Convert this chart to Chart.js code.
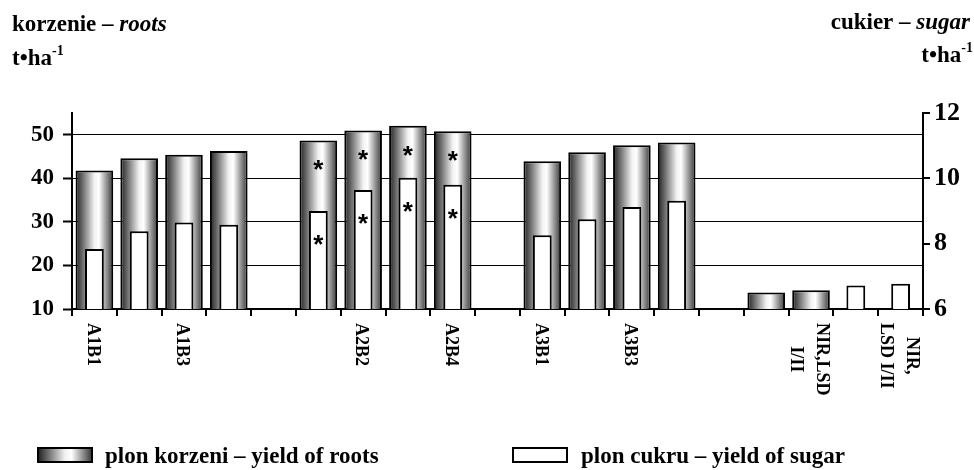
<!DOCTYPE html>
<html>
<head>
<meta charset="utf-8">
<script src="https://cdn.jsdelivr.net/npm/chart.js@4.4.1/dist/chart.umd.min.js"></script>
<style>
  html, body { margin: 0; padding: 0; background: #fff; }
  #wrap { width: 974px; height: 470px; position: relative; }
</style>
</head>
<body>
<div id="wrap"><canvas id="chart"></canvas></div>
<script>
// Categories: treatment combinations, gaps between groups, then LSD bars
const categories = [
  'A1B1', 'A1B2', 'A1B3', 'A1B4', '',
  'A2B1', 'A2B2', 'A2B3', 'A2B4', '',
  'A3B1', 'A3B2', 'A3B3', 'A3B4', '',
  ['NIR,LSD', 'I'], ['NIR,LSD', 'I/II'], ['NIR,', 'LSD I'], ['NIR,', 'LSD I/II']
];

// Root yield, t·ha-1 (left axis)
const rootsYield = [41.8, 44.6, 45.4, 46.3, null, 48.7, 51.0, 52.1, 50.8, null,
                    43.9, 46.0, 47.6, 48.2, null, 13.8, 14.3, null, null];

// Sugar yield, t·ha-1 (right axis)
const sugarYield = [7.84, 8.38, 8.65, 8.58, null, 9.00, 9.64, 10.02, 9.80, null,
                    8.26, 8.75, 9.12, 9.31, null, null, null, 6.72, 6.77];

// Significant differences (marked with an asterisk)
const rootsSignificant = [5, 6, 7, 8];
const sugarSignificant = [5, 6, 7, 8];

// Axis ranges and tick steps
const rootsAxis = { min: 10, max: 55, step: 10 };
const sugarAxis = { min: 6, max: 12, step: 2 };

const ROOT_BAR = 0.84;
const SUGAR_BAR = 0.42;
const SERIF = '"Liberation Serif", "Times New Roman", serif';

function barGradient(c, x0, x1) {
  const g = c.createLinearGradient(x0, 0, x1, 0);
  g.addColorStop(0, '#202020');
  g.addColorStop(0.2, '#727272');
  g.addColorStop(0.5, '#f2f2f2');
  g.addColorStop(0.62, '#ffffff');
  g.addColorStop(1, '#363636');
  return g;
}

function rootsFill(ctx) {
  const chart = ctx.chart;
  const xs = chart.scales && chart.scales.x;
  if (!xs || ctx.dataIndex === undefined) return '#999';
  const cx = xs.getPixelForValue(ctx.dataIndex);
  const w = xs.width / categories.length * ROOT_BAR;
  if (!Number.isFinite(cx) || !Number.isFinite(w) || w <= 0) return '#999';
  return barGradient(chart.ctx, cx - w / 2, cx + w / 2);
}

// Axis titles in the top corners, with mixed bold / italic and a superscript
function drawRich(c, parts, x, y, align) {
  const fontOf = p => `${p.italic ? 'italic ' : ''}bold ${p.size}px ${SERIF}`;
  let total = 0;
  parts.forEach(p => { c.font = fontOf(p); total += c.measureText(p.text).width; });
  let cx = align === 'right' ? x - total : x;
  c.textAlign = 'left';
  c.textBaseline = 'alphabetic';
  parts.forEach(p => {
    c.font = fontOf(p);
    c.fillText(p.text, cx, y + (p.dy || 0));
    cx += c.measureText(p.text).width;
  });
}

const decorations = {
  id: 'decorations',
  afterDraw(chart) {
    const c = chart.ctx;
    const xs = chart.scales.x;
    c.save();
    c.fillStyle = '#000';

    // corner titles
    drawRich(c, [{ text: 'korzenie – ', size: 23 }, { text: 'roots', size: 23, italic: true }], 12, 31, 'left');
    drawRich(c, [{ text: 't•ha', size: 23 }, { text: '-1', size: 14, dy: -10 }], 12, 65, 'left');
    drawRich(c, [{ text: 'cukier – ', size: 23 }, { text: 'sugar', size: 23, italic: true }], 970, 29, 'right');
    drawRich(c, [{ text: 't•ha', size: 23 }, { text: '-1', size: 14, dy: -10 }], 973, 62, 'right');

    // category labels, rotated to read downwards, every second one shown
    c.font = `bold 18px ${SERIF}`;
    categories.forEach((lab, i) => {
      if (i % 2 !== 0 || !lab) return;
      const lines = Array.isArray(lab) ? lab : [lab];
      const x = xs.getPixelForValue(i);
      const top = xs.top + 14;
      const lh = 26;
      const widths = lines.map(l => c.measureText(l).width);
      const maxW = Math.max(...widths);
      c.save();
      c.translate(x, top);
      c.rotate(Math.PI / 2);
      c.textAlign = 'center';
      c.textBaseline = 'middle';
      lines.forEach((l, k) => {
        const ly = (k - (lines.length - 1) / 2) * lh + 2;
        c.fillText(l, maxW / 2, ly);
      });
      c.restore();
    });

    // legend
    const sw = { w: 54, h: 14, y: 448 };
    c.fillStyle = barGradient(c, 38, 38 + sw.w);
    c.fillRect(38, sw.y, sw.w, sw.h);
    c.lineWidth = 2;
    c.strokeStyle = '#000';
    c.strokeRect(38, sw.y, sw.w, sw.h);
    c.fillStyle = '#fff';
    c.fillRect(513, sw.y, sw.w, sw.h);
    c.strokeRect(513, sw.y, sw.w, sw.h);
    c.fillStyle = '#000';
    c.font = `bold 23px ${SERIF}`;
    c.textAlign = 'left';
    c.textBaseline = 'alphabetic';
    c.fillText(chart.data.datasets[0].label, 105, 463);
    c.fillText(chart.data.datasets[1].label, 581, 463);
    c.restore();
  },
  afterDatasetsDraw(chart) {
    const c = chart.ctx;
    c.save();
    c.fillStyle = '#000';
    c.font = 'bold 26px "Liberation Sans", Arial, sans-serif';
    c.textAlign = 'center';
    c.textBaseline = 'alphabetic';
    const mark = (dsIndex, list, offset) => {
      const meta = chart.getDatasetMeta(dsIndex);
      list.forEach(i => {
        const bar = meta.data[i];
        if (!bar) return;
        c.fillText('*', bar.x, bar.y + offset + 15);
      });
    };
    mark(0, rootsSignificant, 23);
    mark(1, sugarSignificant, 27);
    c.restore();
  }
};

new Chart(document.getElementById('chart'), {
  type: 'bar',
  data: {
    labels: categories,
    datasets: [
      {
        label: 'plon korzeni – yield of roots',
        data: rootsYield,
        yAxisID: 'yRoots',
        backgroundColor: rootsFill,
        borderColor: '#000',
        borderWidth: 2,
        barPercentage: ROOT_BAR,
        categoryPercentage: 1,
        grouped: false,
        order: 2
      },
      {
        label: 'plon cukru – yield of sugar',
        data: sugarYield,
        yAxisID: 'ySugar',
        backgroundColor: '#ffffff',
        borderColor: '#000',
        borderWidth: 2,
        barPercentage: SUGAR_BAR,
        categoryPercentage: 1,
        grouped: false,
        order: 1
      }
    ]
  },
  options: {
    responsive: true,
    maintainAspectRatio: false,
    animation: false,
    layout: { padding: { top: 113, left: 0, right: 0, bottom: 0 } },
    plugins: {
      legend: { display: false },
      tooltip: { enabled: false },
      title: { display: false }
    },
    scales: {
      x: {
        type: 'category',
        offset: true,
        grid: { offset: true, drawOnChartArea: false, drawTicks: true, tickLength: 7, color: '#000', lineWidth: 2 },
        border: { color: '#000', width: 2 },
        ticks: { display: false },
        afterFit: s => { s.height = 161; }
      },
      yRoots: {
        position: 'left',
        min: rootsAxis.min,
        max: rootsAxis.max,
        ticks: {
          stepSize: rootsAxis.step,
          includeBounds: false,
          color: '#000',
          padding: 9,
          font: { family: SERIF, size: 23, weight: 'bold' }
        },
        grid: { color: '#000', lineWidth: 1, tickLength: 9, tickWidth: 2, tickColor: '#000' },
        border: { color: '#000', width: 2 },
        afterFit: s => { s.width = 72; }
      },
      ySugar: {
        position: 'right',
        min: sugarAxis.min,
        max: sugarAxis.max,
        ticks: {
          stepSize: sugarAxis.step,
          color: '#000',
          padding: 4,
          font: { family: SERIF, size: 26, weight: 'bold' }
        },
        grid: { drawOnChartArea: false, tickLength: 7, color: '#000', lineWidth: 2 },
        border: { color: '#000', width: 2 },
        afterFit: s => { s.width = 51; }
      }
    }
  },
  plugins: [decorations]
});
</script>
</body>
</html>
